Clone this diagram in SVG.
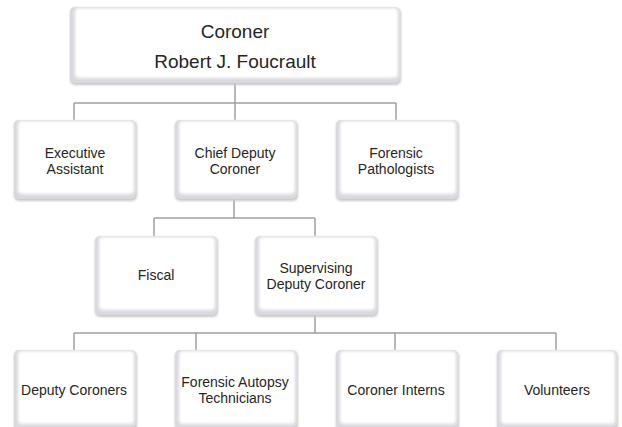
<svg xmlns="http://www.w3.org/2000/svg" width="622" height="427" viewBox="0 0 622 427">
<defs>
<filter id="soft" x="-10%" y="-10%" width="120%" height="120%"><feGaussianBlur stdDeviation="1.6"/></filter>
<filter id="sh" x="-10%" y="-10%" width="120%" height="130%"><feGaussianBlur stdDeviation="1"/></filter>
</defs>
<style>
.line{stroke:#a0a0a0;stroke-width:1.5;fill:none}
.sh{fill:#c8c8cc;filter:url(#sh)}
.base{fill:#d8d8de}
.face{fill:#ffffff;filter:url(#soft)}
text{font-family:"Liberation Sans",Arial,sans-serif;font-size:14px;fill:#262626;text-anchor:middle}
.big{font-size:19px}
</style>
<rect width="622" height="427" fill="#ffffff"/>
<g id="connectors">
<path class="line" d="M235 83V103M74 103H396M74 103V120M235 103V120M396 103V120"/>
<path class="line" d="M234 199V218M154 218H315M154 218V236M315 218V236"/>
<path class="line" d="M315 315V333M74 333H556M74 333V350M196 333V350M395 333V350M556 333V350"/>
</g>
<g id="coroner">
<rect class="sh" x="70" y="8" width="331" height="77" rx="5"/>
<rect class="base" x="70" y="7" width="330" height="76" rx="5"/>
<rect class="face" x="75" y="8" width="323" height="70" rx="4"/>
<text class="big" x="235" y="38">Coroner</text>
<text class="big" x="235" y="68">Robert J. Foucrault</text>
</g>
<g id="exec">
<rect class="sh" x="14" y="121" width="123" height="80" rx="5"/>
<rect class="base" x="14" y="120" width="122" height="79" rx="5"/>
<rect class="face" x="18" y="121" width="116" height="73" rx="4"/>
<text x="75" y="158">Executive</text>
<text x="75" y="174">Assistant</text>
</g>
<g id="chief">
<rect class="sh" x="175" y="121" width="123" height="80" rx="5"/>
<rect class="base" x="175" y="120" width="122" height="79" rx="5"/>
<rect class="face" x="179" y="121" width="116" height="73" rx="4"/>
<text x="235" y="158">Chief Deputy</text>
<text x="235" y="174">Coroner</text>
</g>
<g id="pathologists">
<rect class="sh" x="336" y="121" width="123" height="80" rx="5"/>
<rect class="base" x="336" y="120" width="122" height="79" rx="5"/>
<rect class="face" x="340" y="121" width="116" height="73" rx="4"/>
<text x="396" y="158">Forensic</text>
<text x="396" y="174">Pathologists</text>
</g>
<g id="fiscal">
<rect class="sh" x="95" y="237" width="123" height="80" rx="5"/>
<rect class="base" x="95" y="236" width="122" height="79" rx="5"/>
<rect class="face" x="99" y="237" width="116" height="73" rx="4"/>
<text x="156" y="280">Fiscal</text>
</g>
<g id="supervising">
<rect class="sh" x="255" y="237" width="123" height="80" rx="5"/>
<rect class="base" x="255" y="236" width="122" height="79" rx="5"/>
<rect class="face" x="259" y="237" width="116" height="73" rx="4"/>
<text x="316" y="273">Supervising</text>
<text x="316" y="289">Deputy Coroner</text>
</g>
<g id="deputies">
<rect class="sh" x="14" y="351" width="123" height="80" rx="5"/>
<rect class="base" x="14" y="350" width="122" height="79" rx="5"/>
<rect class="face" x="18" y="351" width="116" height="73" rx="4"/>
<text x="74" y="395">Deputy Coroners</text>
</g>
<g id="technicians">
<rect class="sh" x="175" y="351" width="123" height="80" rx="5"/>
<rect class="base" x="175" y="350" width="122" height="79" rx="5"/>
<rect class="face" x="179" y="351" width="116" height="73" rx="4"/>
<text x="235" y="387">Forensic Autopsy</text>
<text x="235" y="403">Technicians</text>
</g>
<g id="interns">
<rect class="sh" x="336" y="351" width="123" height="80" rx="5"/>
<rect class="base" x="336" y="350" width="122" height="79" rx="5"/>
<rect class="face" x="340" y="351" width="116" height="73" rx="4"/>
<text x="396" y="395">Coroner Interns</text>
</g>
<g id="volunteers">
<rect class="sh" x="497" y="351" width="121" height="80" rx="5"/>
<rect class="base" x="497" y="350" width="120" height="79" rx="5"/>
<rect class="face" x="501" y="351" width="114" height="73" rx="4"/>
<text x="557" y="395">Volunteers</text>
</g>
</svg>
